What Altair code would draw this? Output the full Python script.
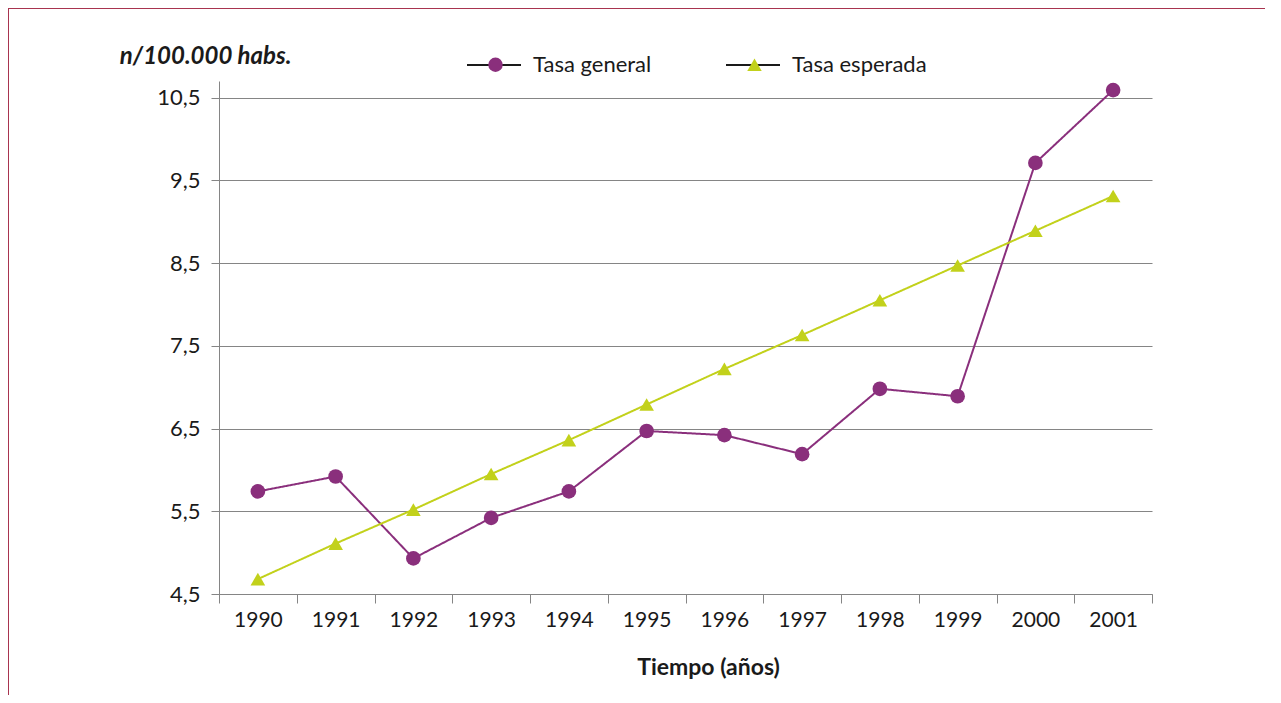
import altair as alt
import pandas as pd

years = [1990, 1991, 1992, 1993, 1994, 1995, 1996, 1997, 1998, 1999, 2000, 2001]
tasa_general = [5.74, 5.92, 4.93, 5.42, 5.74, 6.47, 6.42, 6.19, 6.98, 6.89, 9.71, 10.59]
tasa_esperada = [4.68, 5.11, 5.52, 5.95, 6.36, 6.79, 7.22, 7.63, 8.05, 8.47, 8.89, 9.31]
series_names = ["Tasa general", "Tasa esperada"]
series_colors = ["#8a2f7c", "#c2d11b"]
y_ticks = [4.5, 5.5, 6.5, 7.5, 8.5, 9.5, 10.5]

# three label variants so that Vega-Lite keeps the legends apart
marker_names = [n + " " for n in series_names]
line_color_keys = [n + "  " for n in series_names]

rows = []
for i, (name, vals) in enumerate(zip(series_names, [tasa_general, tasa_esperada])):
    for yr, v in zip(years, vals):
        rows.append({"year": yr, "value": v, "serie": name,
                     "marker": marker_names[i], "linekey": line_color_keys[i]})
df = pd.DataFrame(rows)

FONT = "Lato"
TXT = "#1a1a1a"
GRAY = "#858585"

x_enc = alt.X(
    "year:O",
    scale=alt.Scale(type="band", paddingInner=0, paddingOuter=0),
    axis=alt.Axis(
        title="Tiempo (años)", titleFontWeight="bold", titleFontSize=23,
        titleX=489, titleY=80, titleAlign="center", titleBaseline="alphabetic",
        titleColor=TXT, labelAngle=0, labelFontSize=21, labelColor=TXT,
        labelPadding=6, tickBand="extent", tickSize=9, tickColor=GRAY,
        domainColor=GRAY, grid=False,
    ),
)
y_enc = alt.Y(
    "value:Q",
    scale=alt.Scale(domain=[4.5, 10.7], nice=False, zero=False),
    axis=alt.Axis(
        values=y_ticks, labelExpr="replace(format(datum.value, '.1f'), '.', ',')",
        title="n/100.000 habs.", titleAngle=0, titleFontWeight="bold",
        titleFontStyle="italic", titleFontSize=24, titleColor=TXT,
        titleX=72, titleY=-18, titleAlign="right", titleBaseline="alphabetic",
        labelFontSize=22, labelColor=TXT, labelPadding=11, tickSize=8,
        tickColor=GRAY, domainColor=GRAY, grid=True, gridColor=GRAY,
    ),
)

line_legend = alt.Legend(
    title=None, orient="none", direction="horizontal", legendX=247, legendY=-44,
    symbolType="stroke", symbolSize=2916, symbolStrokeWidth=2,
    symbolStrokeColor="#1a1a1a",
    labelFontSize=22, labelColor=TXT, labelOffset=11, columnPadding=70, padding=0,
)
point_legend = alt.Legend(
    title=None, orient="none", direction="horizontal", legendX=266, legendY=-27,
    symbolSize=210, labelFontSize=21, labelExpr="''", labelOffset=0,
    columnPadding=238, padding=0, symbolStrokeWidth=0,
)

lines = alt.Chart(df).mark_line(strokeWidth=2).encode(
    x=x_enc, y=y_enc,
    stroke=alt.Stroke("linekey:N", scale=alt.Scale(domain=line_color_keys, range=series_colors),
                      legend=None),
    strokeDash=alt.StrokeDash("serie:N", scale=alt.Scale(domain=series_names, range=[[1, 0], [1, 0]]),
                              legend=line_legend),
)
points = alt.Chart(df).mark_point(filled=True, size=215, opacity=1).encode(
    x=x_enc, y=y_enc,
    fill=alt.Fill("marker:N", scale=alt.Scale(domain=marker_names, range=series_colors),
                  legend=point_legend),
    shape=alt.Shape("marker:N", scale=alt.Scale(domain=marker_names, range=["circle", "triangle-up"]),
                    legend=point_legend),
)

frame_df = pd.DataFrame({"k": [0]})
BORDER = "#a8344f"
frame_left = alt.Chart(frame_df).mark_rule(color=BORDER, strokeWidth=2).encode(
    x=alt.value(-211), y=alt.value(-73), y2=alt.value(620)
)
frame_top = alt.Chart(frame_df).mark_rule(color=BORDER, strokeWidth=2).encode(
    x=alt.value(-212), x2=alt.value(1060), y=alt.value(-73)
)

chart = alt.layer(frame_left, frame_top, lines, points).properties(
    width=933, height=513,
    autosize=alt.AutoSizeParams(type="none"),
    padding={"left": 211, "top": 73, "right": 113, "bottom": 101},
).configure(font=FONT).configure_view(stroke=None)

chart.save("out.html", embed_options={"renderer": "svg", "actions": False})
